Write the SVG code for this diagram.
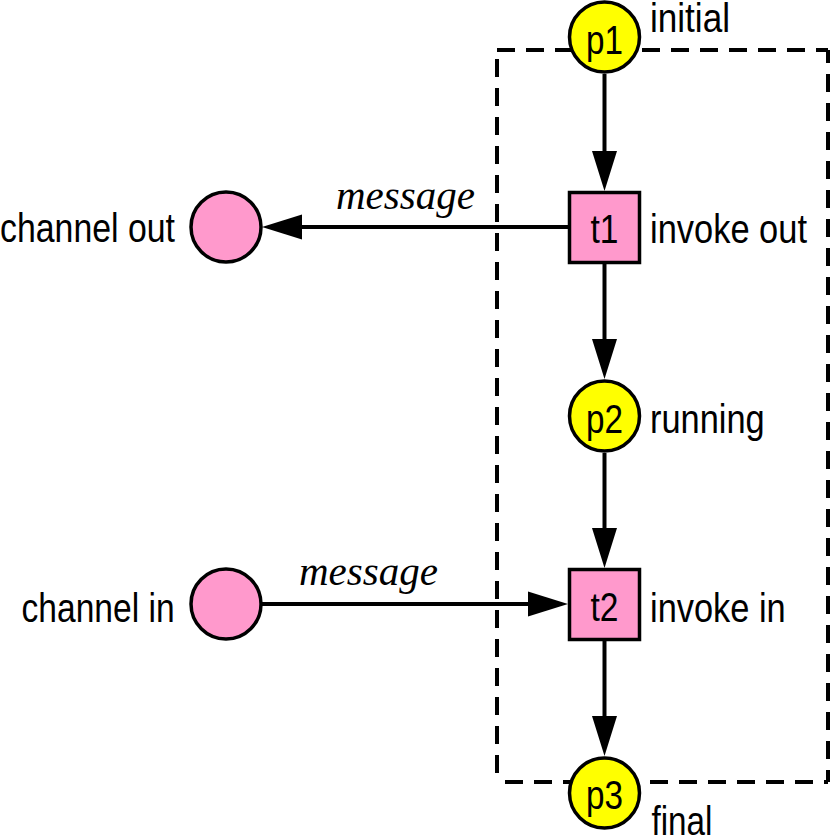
<svg xmlns="http://www.w3.org/2000/svg" width="831" height="836" viewBox="0 0 831 836">
  <style>
    .place { fill: #FFFF00; stroke: #000; stroke-width: 3.5; }
    .chan { fill: #FF99CC; stroke: #000; stroke-width: 3.5; }
    .trans { fill: #FF99CC; stroke: #000; stroke-width: 3.5; }
    .lbl { font-family: "Liberation Sans", Arial, sans-serif; font-size: 41px; fill: #000; }
    .nlbl { font-family: "Liberation Sans", Arial, sans-serif; font-size: 40px; fill: #000; text-anchor: middle; }
    .msg { font-family: "Liberation Serif", "Times New Roman", serif; font-style: italic; font-size: 41px; fill: #000; }
    .arc { stroke: #000; stroke-width: 4; fill: none; marker-end: url(#arrow); }
    .dash { stroke: #000; stroke-width: 4; fill: none; stroke-dasharray: 18 11; }
  </style>
  <defs>
    <marker id="arrow" markerUnits="userSpaceOnUse" markerWidth="40" markerHeight="26" refX="10" refY="12.5" orient="auto" overflow="visible">
      <path d="M0,0 L40,12.5 L0,25 Z" fill="#000"/>
    </marker>
  </defs>
  <rect width="831" height="836" fill="#fff"/>

  <g id="boundary">
    <line class="dash" x1="497" y1="50" x2="828" y2="50" stroke-dashoffset="0"/>
    <line class="dash" x1="828" y1="50" x2="828" y2="782" stroke-dashoffset="5"/>
    <line class="dash" x1="497" y1="782" x2="828" y2="782" stroke-dashoffset="21"/>
    <line class="dash" x1="497" y1="50" x2="497" y2="782" stroke-dashoffset="20"/>
  </g>

  <g id="connectors">
    <line class="arc" x1="604.5" y1="74" x2="604.5" y2="161"/>
    <line class="arc" x1="604.5" y1="264" x2="604.5" y2="349"/>
    <line class="arc" x1="604.5" y1="453" x2="604.5" y2="538"/>
    <line class="arc" x1="604.5" y1="641" x2="604.5" y2="726"/>
    <line class="arc" x1="568" y1="227" x2="292" y2="227"/>
    <line class="arc" x1="262" y1="604" x2="538" y2="604"/>
    <text class="msg" x="336" y="209">message</text>
    <text class="msg" x="299" y="585">message</text>
  </g>

  <g id="p1">
    <circle class="place" cx="604.5" cy="37" r="35"/>
    <text class="nlbl" x="604.5" y="54" textLength="37" lengthAdjust="spacingAndGlyphs">p1</text>
    <text class="lbl" x="650" y="32" textLength="80" lengthAdjust="spacingAndGlyphs">initial</text>
  </g>
  <g id="t1">
    <rect class="trans" x="569.5" y="192.5" width="70" height="70"/>
    <text class="nlbl" x="604.5" y="243" textLength="28" lengthAdjust="spacingAndGlyphs">t1</text>
    <text class="lbl" x="650" y="243" textLength="157" lengthAdjust="spacingAndGlyphs">invoke out</text>
  </g>
  <g id="p2">
    <circle class="place" cx="604.5" cy="416" r="35"/>
    <text class="nlbl" x="604.5" y="433" textLength="37" lengthAdjust="spacingAndGlyphs">p2</text>
    <text class="lbl" x="650" y="433" textLength="114.7" lengthAdjust="spacingAndGlyphs">running</text>
  </g>
  <g id="t2">
    <rect class="trans" x="569.5" y="569.5" width="70" height="70"/>
    <text class="nlbl" x="604.5" y="621" textLength="28" lengthAdjust="spacingAndGlyphs">t2</text>
    <text class="lbl" x="650" y="622" textLength="135.7" lengthAdjust="spacingAndGlyphs">invoke in</text>
  </g>
  <g id="p3">
    <circle class="place" cx="604.5" cy="793" r="35"/>
    <text class="nlbl" x="604.5" y="809" textLength="37" lengthAdjust="spacingAndGlyphs">p3</text>
    <text class="lbl" x="651.5" y="835" textLength="61" lengthAdjust="spacingAndGlyphs">final</text>
  </g>
  <g id="channel_out">
    <circle class="chan" cx="226" cy="227" r="35"/>
    <text class="lbl" x="0" y="242" textLength="175" lengthAdjust="spacingAndGlyphs">channel out</text>
  </g>
  <g id="channel_in">
    <circle class="chan" cx="226" cy="604" r="35"/>
    <text class="lbl" x="21.6" y="622" textLength="153" lengthAdjust="spacingAndGlyphs">channel in</text>
  </g>
</svg>
